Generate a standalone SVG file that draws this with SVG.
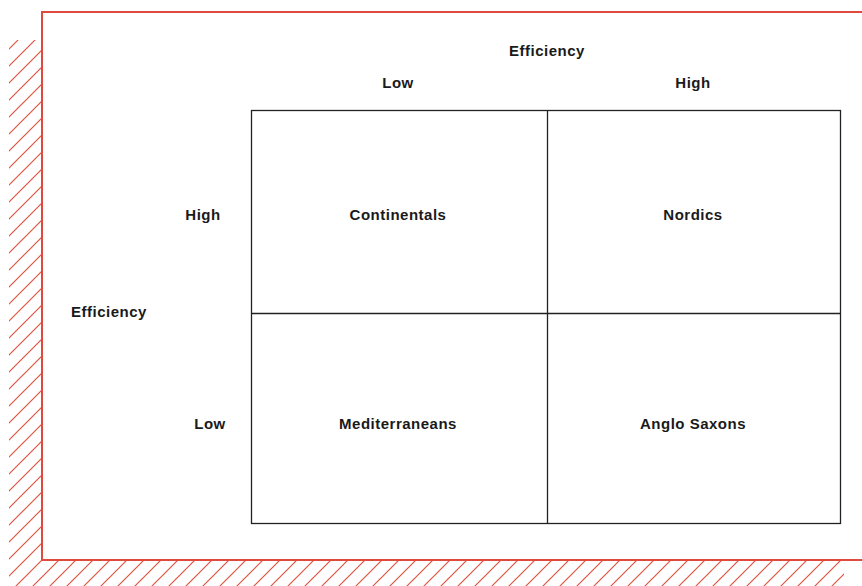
<svg xmlns="http://www.w3.org/2000/svg" width="862" height="586" viewBox="0 0 862 586">
<style>
.t{font-family:"Liberation Sans",Arial,sans-serif;font-weight:bold;font-size:15px;fill:#1a1a1a;text-anchor:middle;letter-spacing:0.5px}
.grid{stroke:#222;stroke-width:1.3;fill:none}
.frame{stroke:#e04a3c;stroke-width:2;fill:none}
</style>
<defs>
<pattern id="hatch" patternUnits="userSpaceOnUse" width="17" height="17" patternTransform="translate(7,0)">
<path d="M0,17 L17,0 M-2,2 L2,-2 M15,19 L19,15" stroke="#e0533f" stroke-width="1.2"/>
</pattern>
</defs>
<rect width="862" height="586" fill="#fff"/>
<g id="hatching">
<rect x="9" y="40" width="32" height="546" fill="url(#hatch)"/>
<rect x="41" y="561" width="803" height="25" fill="url(#hatch)"/>
</g>
<g id="frame">
<path class="frame" d="M862,12 L42,12 L42,560 L862,560"/>
</g>
<g id="connectors">
<rect class="grid" x="251.5" y="110.5" width="589" height="413"/>
<line class="grid" x1="547.5" y1="110.5" x2="547.5" y2="523.5"/>
<line class="grid" x1="251.5" y1="313.5" x2="840.5" y2="313.5"/>
</g>
<g id="axis-top">
<text class="t" x="547" y="56">Efficiency</text>
<text class="t" x="398" y="88">Low</text>
<text class="t" x="693" y="88">High</text>
</g>
<g id="axis-left">
<text class="t" x="109" y="317">Efficiency</text>
<text class="t" x="203" y="220">High</text>
<text class="t" x="210" y="429">Low</text>
</g>
<g id="node-continentals"><text class="t" x="398" y="220">Continentals</text></g>
<g id="node-nordics"><text class="t" x="693" y="220">Nordics</text></g>
<g id="node-mediterraneans"><text class="t" x="398" y="429">Mediterraneans</text></g>
<g id="node-anglosaxons"><text class="t" x="693" y="429">Anglo Saxons</text></g>
</svg>
